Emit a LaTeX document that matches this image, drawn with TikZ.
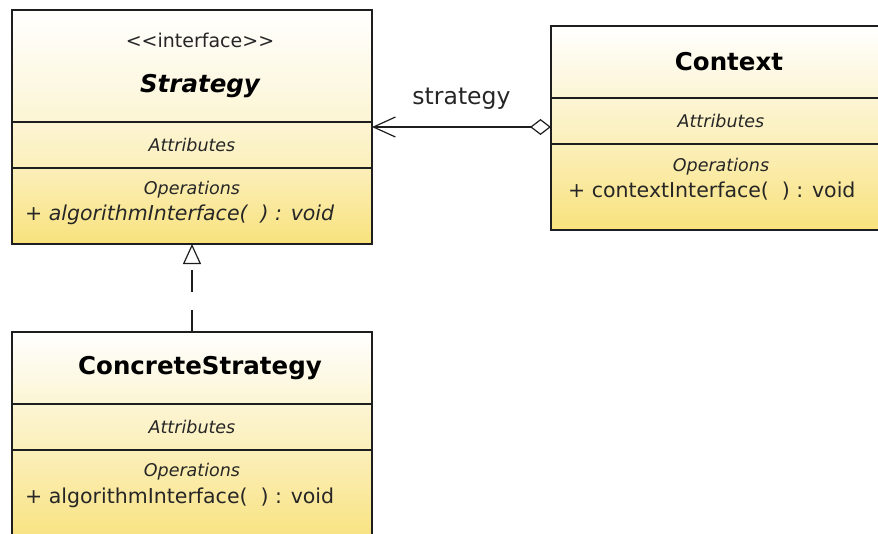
\documentclass[tikz,border=0pt]{standalone}
\usepackage{fontspec}
\setmainfont{DejaVu Sans}
\usetikzlibrary{arrows.meta,positioning}

\definecolor{ypale}{RGB}{252,245,212}
\definecolor{ymid}{RGB}{251,239,186}
\definecolor{ydeep}{RGB}{248,226,125}
\definecolor{umlline}{RGB}{30,30,30}

\begin{document}
\begin{tikzpicture}[x=1pt,y=-1pt]
	\tikzstyle{comp} = [draw=umlline, line width=1.2pt, minimum width=360pt, inner sep=0pt, outer sep=0pt]
	\tikzstyle{head} = [comp, top color=white, bottom color=ypale]
	\tikzstyle{attr} = [comp, minimum height=46pt, top color=ypale, bottom color=ymid]
	\tikzstyle{ops} = [comp, top color=ymid, bottom color=ydeep]
	\tikzstyle{ttl} = [font=\fontsize{24.5}{28}\selectfont\bfseries, text=black, xshift=8pt]
	\tikzstyle{lbl} = [font=\fontsize{17.5}{20}\selectfont\itshape, text=black!85]
	\tikzstyle{meth} = [font=\fontsize{20.5}{24}\selectfont, text=black!85, anchor=west, inner sep=0pt]
	\clip (0,0) rectangle (878,533);

	% Strategy
	\node [head, minimum height=112pt, anchor=north west] (strat) at (12,10) {};
	\node [attr, below=0pt of strat] (stratattr) {};
	\node [ops, minimum height=76pt, below=0pt of stratattr] (stratops) {};
	\node [ttl, font=\fontsize{19}{22}\selectfont, text=black!85] (stratstereo) at ([yshift=-30pt]strat.north) {<\kern0pt<interface>\kern0pt>};
	\node [ttl, font=\fontsize{24.5}{28}\selectfont\bfseries\itshape] (stratname) at ([yshift=-76pt]strat.north) {Strategy};
	\node [lbl] (stratattrlbl) at (stratattr) {Attributes};
	\node [lbl] (stratopslbl) at ([yshift=-22pt]stratops.north) {Operations};
	\node [meth] (stratmeth) at (25,215) {+ \textit{algorithmInterface(\ \ ) : void}};

	% Context
	\node [head, minimum width=340pt, minimum height=72pt, anchor=north west] (ctx) at (551,26) {};
	\node [attr, minimum width=340pt, below=0pt of ctx] (ctxattr) {};
	\node [ops, minimum width=340pt, minimum height=86pt, below=0pt of ctxattr] (ctxops) {};
	\node [ttl] (ctxname) at (ctx) {Context};
	\node [lbl] (ctxattrlbl) at (ctxattr) {Attributes};
	\node [lbl] (ctxopslbl) at ([yshift=-23pt]ctxops.north) {Operations};
	\node [meth] (ctxmeth) at (568,191) {+ contextInterface(\ \ ) : void};

	% ConcreteStrategy
	\node [head, minimum height=72pt, anchor=north west] (conc) at (12,332) {};
	\node [attr, below=0pt of conc] (concattr) {};
	\node [ops, minimum height=95pt, below=0pt of concattr] (concops) {};
	\node [ttl] (concname) at (conc) {ConcreteStrategy};
	\node [lbl] (concattrlbl) at (concattr) {Attributes};
	\node [lbl] (concopslbl) at ([yshift=-22pt]concops.north) {Operations};
	\node [meth] (concmeth) at (25,498) {+ algorithmInterface(\ \ ) : void};

	% aggregation
	\path (ctxattr.west) ++(0,6) coordinate (aggfrom);
	\draw [umlline, line width=1.2pt, {Diamond[open, length=21pt, width=16pt]}-{Straight Barb[length=22pt, width=20pt]}]
		(aggfrom) -- (aggfrom -| stratattr.east)
		node [midway, above=14pt, font=\fontsize{23.5}{26}\selectfont, text=black!85] (aggname) {strategy};

	% realization
	\draw [umlline, line width=1.2pt, dash pattern=on 22pt off 18pt, -{Triangle[open, length=20pt, width=18pt]}]
		(conc.north) -- (stratops.south);
\end{tikzpicture}
\end{document}
